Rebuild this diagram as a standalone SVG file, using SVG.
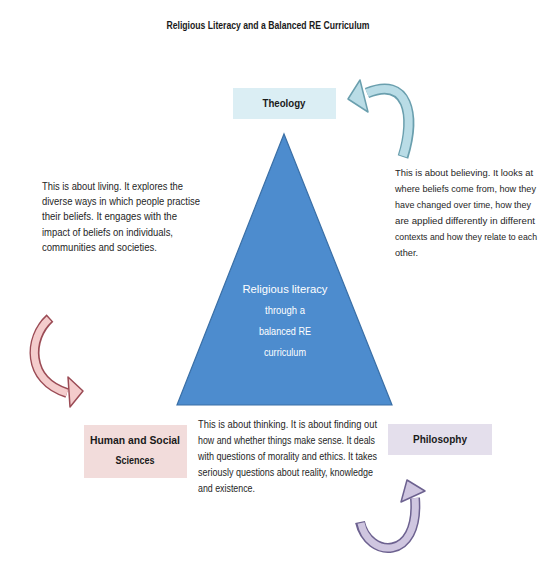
<svg xmlns="http://www.w3.org/2000/svg" width="552" height="561" viewBox="0 0 552 561">
<style>
.t{font-family:"Liberation Sans Narrow","Liberation Sans",Arial,sans-serif;font-size:10px;fill:#262626}
.r{font-family:"Liberation Sans Narrow","Liberation Sans",Arial,sans-serif;font-size:9px;fill:#262626}
.b{font-family:"Liberation Sans Narrow","Liberation Sans",Arial,sans-serif;font-size:10px;font-weight:bold;fill:#1a1a1a;text-anchor:middle}
.w{font-family:"Liberation Sans Narrow","Liberation Sans",Arial,sans-serif;font-size:11px;fill:#ffffff;text-anchor:middle}
</style>
<rect width="552" height="561" fill="#ffffff"/>
<text id="title" class="b" x="268" y="29" textLength="203" lengthAdjust="spacingAndGlyphs">Religious Literacy and a Balanced RE Curriculum</text>

<g id="connectors">
  <g id="arrow-theology">
    <path d="M403,157 C416,115 408,76 367,93" fill="none" stroke="#6a9fae" stroke-width="11"/>
    <path d="M403,156 C416,115 408,76 367,93" fill="none" stroke="#b9dce6" stroke-width="8"/>
    <polygon points="348,99 360,80 368,112" fill="#b9dce6" stroke="#6a9fae" stroke-width="1.5" stroke-linejoin="round"/>
  </g>
  <g id="arrow-human">
    <path d="M50,318 C28,338 26,380 67,393" fill="none" stroke="#9b4b55" stroke-width="10"/>
    <path d="M49,319 C28,338 26,380 67,393" fill="none" stroke="#f4cccc" stroke-width="7"/>
    <polygon points="83,391 68,377 70,407" fill="#f4cccc" stroke="#9b4b55" stroke-width="1.5" stroke-linejoin="round"/>
  </g>
  <g id="arrow-philosophy">
    <path d="M360,522 C368,558 420,562 415,498" fill="none" stroke="#6d6290" stroke-width="10"/>
    <path d="M361,523 C368,558 420,562 415,498" fill="none" stroke="#cfc6e0" stroke-width="7"/>
    <polygon points="407,480 401,502 425,491" fill="#cfc6e0" stroke="#6d6290" stroke-width="1.5" stroke-linejoin="round"/>
  </g>
</g>

<g id="triangle">
  <polygon points="284,134 392,405 177,405" fill="#4d8cce" stroke="#3a6fa6" stroke-width="1.2"/>
  <text class="w" x="285" y="293" textLength="85" lengthAdjust="spacingAndGlyphs">Religious literacy</text>
  <text class="w" x="285" y="314" textLength="40" lengthAdjust="spacingAndGlyphs">through a</text>
  <text class="w" x="285" y="335" textLength="52" lengthAdjust="spacingAndGlyphs">balanced RE</text>
  <text class="w" x="285" y="356" textLength="42" lengthAdjust="spacingAndGlyphs">curriculum</text>
</g>

<g id="theology">
  <rect x="233" y="88" width="103" height="31" fill="#dbeef4"/>
  <text class="b" x="284" y="107" textLength="43" lengthAdjust="spacingAndGlyphs">Theology</text>
</g>

<g id="human">
  <rect x="84" y="425" width="103" height="53" fill="#f2dcdb"/>
  <text class="b" x="135" y="444" textLength="90" lengthAdjust="spacingAndGlyphs">Human and Social</text>
  <text class="b" x="135" y="464" textLength="39" lengthAdjust="spacingAndGlyphs">Sciences</text>
</g>

<g id="philosophy">
  <rect x="388" y="424" width="104" height="31" fill="#e4dfec"/>
  <text class="b" x="440" y="443" textLength="54" lengthAdjust="spacingAndGlyphs">Philosophy</text>
</g>

<g id="text-living">
  <text class="t" x="42" y="190" textLength="141" lengthAdjust="spacingAndGlyphs">This is about living. It explores the</text>
  <text class="t" x="42" y="205" textLength="158" lengthAdjust="spacingAndGlyphs">diverse ways in which people practise</text>
  <text class="t" x="42" y="220" textLength="135" lengthAdjust="spacingAndGlyphs">their beliefs. It engages with the</text>
  <text class="t" x="42" y="236" textLength="131" lengthAdjust="spacingAndGlyphs">impact of beliefs on individuals,</text>
  <text class="t" x="42" y="251" textLength="115" lengthAdjust="spacingAndGlyphs">communities and societies.</text>
</g>

<g id="text-believing">
  <text class="r" x="395" y="176" textLength="138" lengthAdjust="spacingAndGlyphs">This is about believing. It looks at</text>
  <text class="r" x="395" y="192" textLength="141" lengthAdjust="spacingAndGlyphs">where beliefs come from, how they</text>
  <text class="r" x="395" y="208" textLength="136" lengthAdjust="spacingAndGlyphs">have changed over time, how they</text>
  <text class="r" x="395" y="224" textLength="140" lengthAdjust="spacingAndGlyphs">are applied differently in different</text>
  <text class="r" x="395" y="240" textLength="142" lengthAdjust="spacingAndGlyphs">contexts and how they relate to each</text>
  <text class="r" x="395" y="256" textLength="23" lengthAdjust="spacingAndGlyphs">other.</text>
</g>

<g id="text-thinking">
  <text class="t" x="198" y="428" textLength="179" lengthAdjust="spacingAndGlyphs">This is about thinking. It is about finding out</text>
  <text class="t" x="198" y="444" textLength="177" lengthAdjust="spacingAndGlyphs">how and whether things make sense. It deals</text>
  <text class="t" x="198" y="460" textLength="179" lengthAdjust="spacingAndGlyphs">with questions of morality and ethics. It takes</text>
  <text class="t" x="198" y="476" textLength="175" lengthAdjust="spacingAndGlyphs">seriously questions about reality, knowledge</text>
  <text class="t" x="198" y="492" textLength="57" lengthAdjust="spacingAndGlyphs">and existence.</text>
</g>
</svg>
